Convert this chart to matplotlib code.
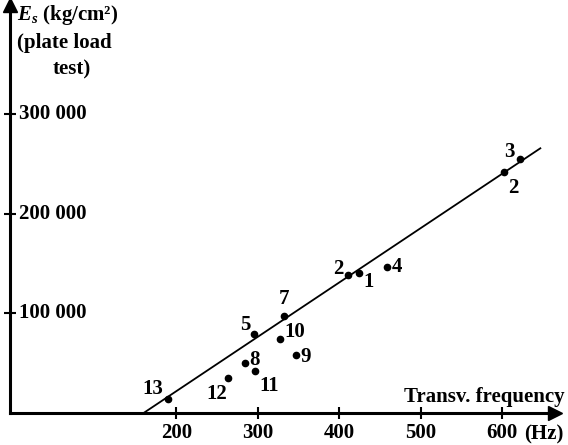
import matplotlib
matplotlib.use('Agg')
import matplotlib.pyplot as plt
from matplotlib import transforms

plt.rcParams['font.family'] = ['Liberation Serif', 'DejaVu Serif']
plt.rcParams['mathtext.fontset'] = 'custom'
plt.rcParams['mathtext.it'] = 'Liberation Serif:italic:bold'
plt.rcParams['mathtext.rm'] = 'Liberation Serif:bold'

# measured points: transverse frequency (Hz) vs Es from plate load test (kg/cm2)
labels = ['13', '12', '8', '11', '5', '10', '7', '9', '2', '1', '4', '2', '3']
freq = [190, 263, 284, 297, 296, 327, 332, 347, 411, 425, 459, 602, 622]
es = [14000, 35500, 50500, 42000, 79000, 74000, 97000, 58000,
      139000, 141000, 147000, 242000, 255000]
# label offsets in pixels (dx, dy)
lab_dx = [-15, -11, 10, 14, -9, 15, 0, 10, -10, 9, 10, 10, -11]
lab_dy = [10, -16, 3, -15, 9, 7, 17, -2, 6, -9, 0, -16, 7]

# regression line
line_hz = [160, 647]
line_es = [0, 266000]

xticks = [200, 300, 400, 500, 600]
yticks = [100000, 200000, 300000]
ytick_labels = ['100 000', '200 000', '300 000']

FS = 15
W, H = 568, 445
fig = plt.figure(figsize=(W / 100, H / 100), dpi=100)
ax = fig.add_axes([10 / W, (H - 413) / H, (555 - 10) / W, (413 - 5) / H])
ax.set_xlim(-4, 665)
ax.set_ylim(0, 410000)

for s in ['top', 'right']:
    ax.spines[s].set_visible(False)
for s in ['left', 'bottom']:
    ax.spines[s].set_linewidth(2.2)
    ax.spines[s].set_color('black')

# arrow heads
ax.plot(1, 0, '>', color='black', markersize=10, transform=ax.transAxes, clip_on=False)
ax.plot(0, 1, '^', color='black', markersize=10, transform=ax.transAxes, clip_on=False)

ax.set_xticks(xticks)
ax.set_xticklabels([str(t) for t in xticks])
ax.set_yticks(yticks)
ax.set_yticklabels([])
ax.tick_params(axis='both', direction='inout', length=8, width=1.5, labelsize=FS, pad=3)
for t in ax.get_xticklabels():
    t.set_fontweight('bold')

# y tick labels sit on the right of the axis
ytr = transforms.blended_transform_factory(ax.transAxes, ax.transData)
for v, s in zip(yticks, ytick_labels):
    ax.text(0.016, v, s, transform=ytr, ha='left', va='center', fontsize=FS,
            fontweight='bold')

ax.plot(line_hz, line_es, color='black', linewidth=1.3, clip_on=False)
ax.plot(freq, es, 'o', color='black', markersize=4.5, clip_on=False)

for lab, x, y, dx, dy in zip(labels, freq, es, lab_dx, lab_dy):
    ax.annotate(lab, (x, y), xytext=(dx, dy), textcoords='offset pixels',
                ha='center', va='center', fontsize=FS, fontweight='bold')

fig.text(17 / W, 1 - 15 / H, r'$E_s$ (kg/cm²)', ha='left', va='center',
         fontsize=FS, fontweight='bold')
fig.text(17 / W, 1 - 43 / H, '(plate load', ha='left', va='center',
         fontsize=FS, fontweight='bold')
fig.text(72 / W, 1 - 69 / H, 'test)', ha='center', va='center',
         fontsize=FS, fontweight='bold')

fig.text(565 / W, 1 - 397 / H, 'Transv. frequency', ha='right', va='center',
         fontsize=FS, fontweight='bold')
fig.text(524 / W, 1 - 434 / H, '(Hz)', ha='left', va='center',
         fontsize=FS, fontweight='bold')

fig.savefig('out.png', dpi=100, facecolor='white')
